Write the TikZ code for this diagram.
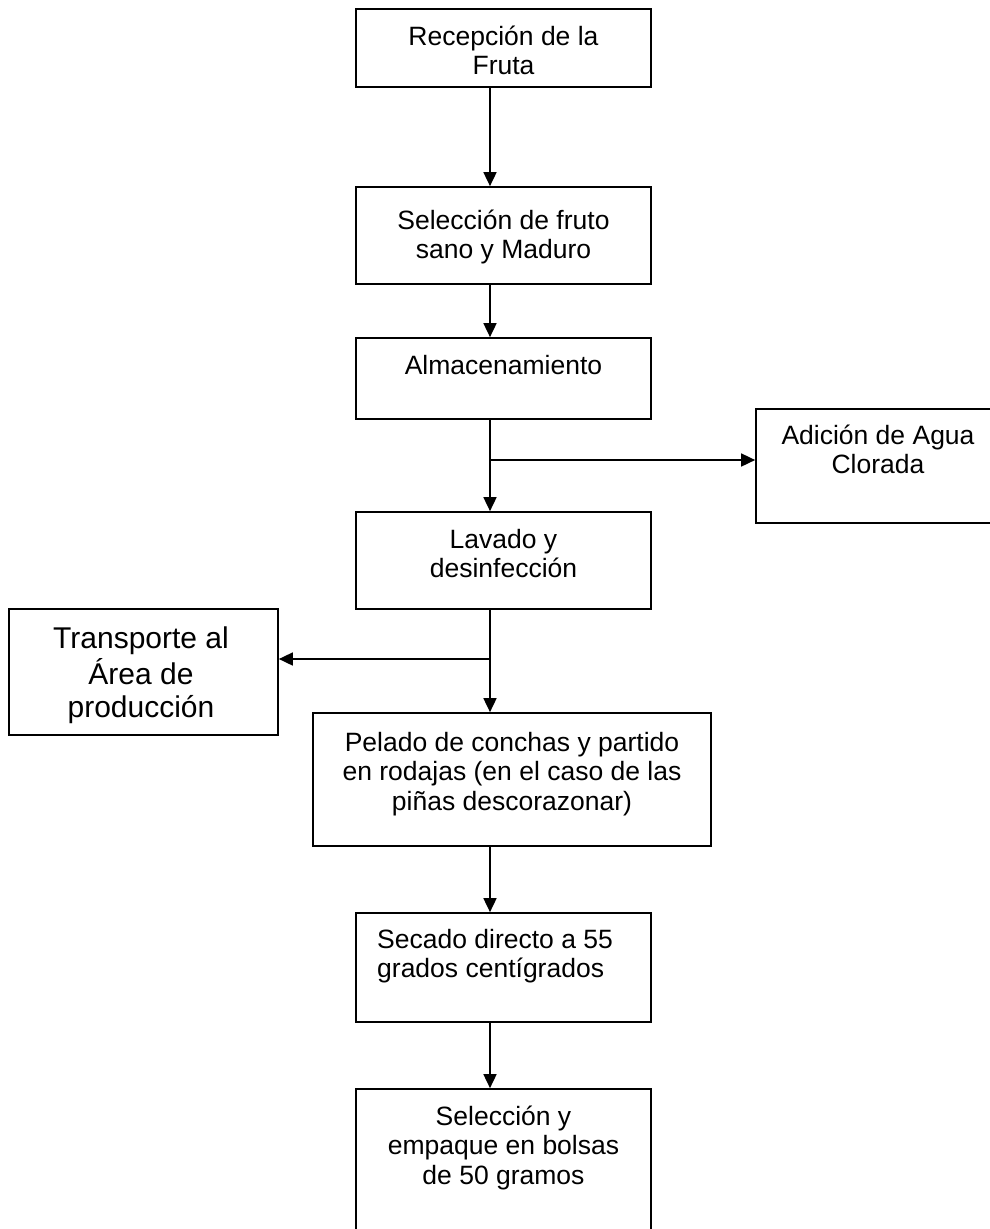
\documentclass[tikz,border=0pt]{standalone}
\usepackage{fontspec}
\setmainfont{Liberation Sans}
\usetikzlibrary{arrows.meta}
\newcommand{\lines}[2][c]{\begin{tabular}[t]{@{}#1@{}}#2\end{tabular}}
\tikzset{
  box/.style={draw, line width=1.7pt, inner sep=0pt},
  txt/.style={inner sep=0pt, anchor=base, font=\fontsize{26.5}{29.5}\selectfont},
  bigtxt/.style={inner sep=0pt, anchor=base, font=\fontsize{30}{33.5}\selectfont},
  arr/.style={line width=1.7pt, -{Triangle[width=13pt,length=14pt]}},
  ln/.style={line width=1.7pt}
}
\begin{document}
\begin{tikzpicture}[x=1pt,y=-1pt]
\useasboundingbox (0,0) rectangle (990,1229);
\clip (0,0) rectangle (990,1229);
% boxes
\node[box, minimum width=295pt, minimum height=78pt]  (b1) at (503.5,48) {};
\node[box, minimum width=295pt, minimum height=97pt]  (b2) at (503.5,235.5) {};
\node[box, minimum width=295pt, minimum height=81pt]  (b3) at (503.5,378.5) {};
\node[box, minimum width=295pt, minimum height=97pt]  (b4) at (503.5,560.5) {};
\node[box, minimum width=244pt, minimum height=114pt] (bR) at (878,466) {};
\node[box, minimum width=269pt, minimum height=126pt] (bL) at (143.5,672) {};
\node[box, minimum width=398pt, minimum height=133pt] (b5) at (512,779.5) {};
\node[box, minimum width=295pt, minimum height=109pt] (b6) at (503.5,967.5) {};
\node[box, minimum width=295pt, minimum height=156pt] (b7) at (503.5,1167) {};
% texts
\node[txt] (t1) at (503.5,45) {\lines{Recepción de la\\Fruta}};
\node[txt] (t2) at (503.5,229) {\lines{Selección de fruto\\sano y Maduro}};
\node[txt] (t3) at (503.5,374) {\lines{Almacenamiento}};
\node[txt] (t4) at (503.5,548) {\lines{Lavado y\\desinfección}};
\node[txt] (tR) at (878,444) {\lines{Adición de Agua\\Clorada}};
\node[bigtxt] (tL) at (141,648) {\lines{Transporte al\\Área de\\producción}};
\node[txt] (t5) at (512,751) {\lines{Pelado de conchas y partido\\en rodajas (en el caso de las\\piñas descorazonar)}};
\node[txt, anchor=base west] (t6) at (377,948) {\lines[l]{Secado directo a 55\\grados centígrados}};
\node[txt] (t7) at (503.5,1125) {\lines{Selección y\\empaque en bolsas\\de 50 gramos}};
% connectors
\coordinate (axis) at (490,0);
\coordinate (j1) at (490,460);
\coordinate (j2) at (490,659);
\draw[arr] (b1.south -| axis) -- (b2.north -| axis);
\draw[arr] (b2.south -| axis) -- (b3.north -| axis);
\draw[ln] (b3.south -| axis) -- (j1);
\draw[arr] (j1) -- (b4.north -| axis);
\draw[arr] (j1) -- (bR.west |- j1);
\draw[ln] (b4.south -| axis) -- (j2);
\draw[arr] (j2) -- (b5.north -| axis);
\draw[arr] (j2) -- (bL.east |- j2);
\draw[arr] (b5.south -| axis) -- (b6.north -| axis);
\draw[arr] (b6.south -| axis) -- (b7.north -| axis);
\end{tikzpicture}
\end{document}
